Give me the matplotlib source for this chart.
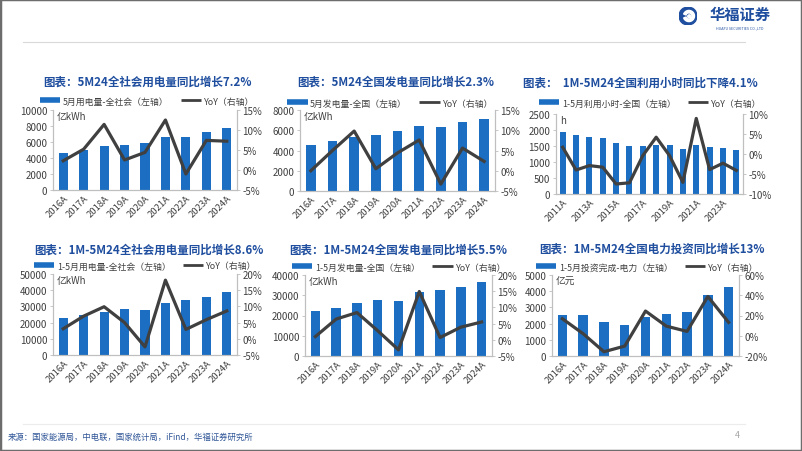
import matplotlib
matplotlib.use("Agg")
import matplotlib.pyplot as plt
from matplotlib.lines import Line2D
from matplotlib.patches import Rectangle, Circle, Wedge
from matplotlib.ticker import FuncFormatter

plt.rcParams['font.family'] = ['Noto Sans CJK SC', 'DejaVu Sans']
plt.rcParams['axes.unicode_minus'] = False

# Paleta del reporte
AZUL_BARRA = "#1b6ec2"
GRIS_LINEA = "#404040"
AZUL_TITULO = "#1f4e9f"
GRIS_EJE = "#bfbfbf"
TEXTO = "#404040"

W, H = 802, 452

# ---- datos ----
ANIOS_9 = ["2016A", "2017A", "2018A", "2019A", "2020A", "2021A", "2022A",
           "2023A", "2024A"]
ANIOS_14 = ["2011A", "2012A", "2013A", "2014A", "2015A", "2016A", "2017A",
            "2018A", "2019A", "2020A", "2021A", "2022A", "2023A", "2024A"]

consumo_mayo = [4670, 5000, 5460, 5620, 5880, 6670, 6670, 7210, 7710]
consumo_mayo_yoy = [2.3, 5.2, 11.4, 2.5, 4.4, 12.5, -1.0, 7.4, 7.2]

generacion_mayo = [4590, 4920, 5380, 5540, 5930, 6430, 6360, 6850, 7150]
generacion_mayo_yoy = [0.0, 5.0, 9.8, 0.5, 4.4, 7.6, -3.3, 5.6, 2.3]

horas_uso = [1950, 1844, 1792, 1740, 1604, 1490, 1490, 1531, 1521, 1406,
             1521, 1469, 1427, 1375]
horas_uso_yoy = [1.7, -4.0, -2.9, -3.3, -7.5, -7.2, -0.4, 4.2, -0.4, -7.1,
                 8.9, -3.9, -2.3, -4.1]

consumo_acum = [22900, 24400, 26650, 28300, 27500, 32200, 33700, 35500, 38600]
consumo_acum_yoy = [3.1, 7.0, 9.9, 5.0, -2.5, 18.1, 2.9, 5.9, 8.6]

generacion_acum = [22460, 23930, 26230, 27540, 27210, 31800, 32460, 34100, 36560]
generacion_acum_yoy = [1.0, 6.4, 8.4, 2.8, -3.1, 14.9, 0.7, 3.9, 5.5]

inversion = [2510, 2530, 2120, 1890, 2390, 2590, 2720, 3790, 4280]
inversion_yoy = [16.8, 2.0, -15.8, -10.2, 24.4, 9.5, 4.3, 38.8, 13.2]


def _fx(x):
    return x / W


def _fy(y):
    return 1 - y / H


def _panel(fig, caja, titulo, pos_titulo, leyenda, pos_leyenda, unidad,
           anios, barras, yoy, lim_izq, paso_izq, lim_der, paso_der,
           salto_etiqueta=1):
    x0, y0, x1, y1 = caja
    ax = fig.add_axes([_fx(x0), _fy(y1), (x1 - x0) / W, (y1 - y0) / H])
    xs = list(range(len(anios)))
    ax.bar(xs, barras, width=0.45, color=AZUL_BARRA, zorder=2)
    ax.set_ylim(*lim_izq)
    ax.set_yticks(range(lim_izq[0], lim_izq[1] + 1, paso_izq))
    ax.set_xlim(-0.5, len(anios) - 0.5)
    ax.set_xticks(xs)
    ax.set_xticklabels([a if i % salto_etiqueta == 0 else ""
                        for i, a in enumerate(anios)],
                       rotation=45, ha="right", rotation_mode="anchor")

    ax2 = ax.twinx()
    ax2.plot(xs, yoy, color=GRIS_LINEA, linewidth=2.3, zorder=3)
    ax2.set_ylim(*lim_der)
    ax2.set_yticks(range(lim_der[0], lim_der[1] + 1, paso_der))
    ax2.yaxis.set_major_formatter(FuncFormatter(lambda v, _: f"{v:.0f}%"))

    for a in (ax, ax2):
        a.spines["top"].set_visible(False)
        for lado in ("left", "right", "bottom"):
            a.spines[lado].set_color(GRIS_EJE)
            a.spines[lado].set_linewidth(0.8)
        a.tick_params(axis="y", labelsize=7, colors=TEXTO, length=2,
                      width=0.6, color=GRIS_EJE, pad=2)
    ax.tick_params(axis="x", labelsize=6.8, colors=TEXTO, length=0, pad=2)

    ax.text(0.02, 0.99, unidad, transform=ax.transAxes, ha="left", va="top",
            fontsize=7, color=TEXTO)

    fig.text(_fx(pos_titulo[0]), _fy(pos_titulo[1]), titulo, ha="center",
             va="center", fontsize=8.3, fontweight="bold", color=AZUL_TITULO)

    manejadores = [
        Line2D([], [], color=AZUL_BARRA, linewidth=4, solid_capstyle="butt"),
        Line2D([], [], color=GRIS_LINEA, linewidth=2, solid_capstyle="butt"),
    ]
    ax.legend(manejadores, [leyenda, "YoY（右轴）"], loc="center",
              bbox_to_anchor=(_fx(pos_leyenda[0]), _fy(pos_leyenda[1])),
              bbox_transform=fig.transFigure, ncol=2, frameon=False,
              fontsize=6.4, handlelength=2.3, handletextpad=0.3,
              columnspacing=1.4, borderpad=0, labelcolor=TEXTO)
    return ax


fig = plt.figure(figsize=(W / 100, H / 100), dpi=100)
fig.patch.set_facecolor("white")

_panel(fig, (53, 111, 237, 191), "图表：5M24全社会用电量同比增长7.2%", (147, 82),
       "5月用电量-全社会（左轴）", (147, 102), "亿kWh",
       ANIOS_9, consumo_mayo, consumo_mayo_yoy, (0, 10000), 2000, (-5, 15), 5)
_panel(fig, (300, 111, 495, 192), "图表：5M24全国发电量同比增长2.3%", (396, 82),
       "5月发电量-全国（左轴）", (390, 104), "亿kWh",
       ANIOS_9, generacion_mayo, generacion_mayo_yoy, (0, 8000), 2000,
       (-5, 15), 5)
_panel(fig, (556, 115, 743, 195), "图表：  1M-5M24全国利用小时同比下降4.1%",
       (640, 83), "1-5月利用小时-全国（左轴）", (650, 104), "h",
       ANIOS_14, horas_uso, horas_uso_yoy, (0, 2500), 500, (-10, 10), 5,
       salto_etiqueta=2)
_panel(fig, (53, 275, 237, 356), "图表：1M-5M24全社会用电量同比增长8.6%",
       (149, 250), "1-5月用电量-全社会（左轴）", (145, 267), "亿kWh",
       ANIOS_9, consumo_acum, consumo_acum_yoy, (0, 50000), 10000, (-5, 20), 5)
_panel(fig, (305, 276, 492, 357), "图表：1M-5M24全国发电量同比增长5.5%",
       (398, 250), "1-5月发电量-全国（左轴）", (399, 268), "亿kWh",
       ANIOS_9, generacion_acum, generacion_acum_yoy, (0, 40000), 10000,
       (-5, 20), 5)
_panel(fig, (552, 276, 739, 357), "图表：1M-5M24全国电力投资同比增长13%",
       (652, 249), "1-5月投资完成-电力（左轴）", (647, 268), "亿元",
       ANIOS_9, inversion, inversion_yoy, (0, 5000), 1000, (-20, 60), 20)

# líneas de encabezado / pie
fig.add_artist(Line2D([_fx(23), _fx(745)], [_fy(43), _fy(43)],
                      color="#d9d9d9", linewidth=0.8))
fig.add_artist(Line2D([_fx(23), _fx(745)], [_fy(425), _fy(425)],
                      color="#ececec", linewidth=0.8))

fig.text(_fx(8), _fy(437), "来源：国家能源局，中电联，国家统计局，iFind，华福证券研究所",
         ha="left", va="center", fontsize=6, color="#2f5597", style="italic")
fig.text(_fx(737), _fy(436), "4", ha="center", va="center", fontsize=6.5,
         color="#a6a6a6")

# logo
ax_logo = fig.add_axes([_fx(679), _fy(26), 18 / W, 18 / H])
ax_logo.set_xlim(-1, 1)
ax_logo.set_ylim(-1, 1)
ax_logo.set_aspect("equal")
ax_logo.axis("off")
ax_logo.add_patch(Circle((0, 0), 1.0, color="#1f4e9f"))
ax_logo.add_patch(Wedge((0.1, 0.0), 0.62, 200, 520, width=0.28, color="white"))
ax_logo.add_patch(Circle((0.15, -0.05), 0.18, color="white"))
fig.text(_fx(740), _fy(15), "华福证券", ha="center", va="center", fontsize=11,
         fontweight="bold", color="#1f4e9f")
fig.text(_fx(740), _fy(28), "HUAFU SECURITIES CO.,LTD", ha="center",
         va="center", fontsize=2.6, color="#1f4e9f")

# marco de la diapositiva
fig.add_artist(Rectangle((0, 0), 1, 1, transform=fig.transFigure, fill=False,
                         edgecolor="#6d6d6d", linewidth=2.5))

fig.savefig("out.png", dpi=100)
